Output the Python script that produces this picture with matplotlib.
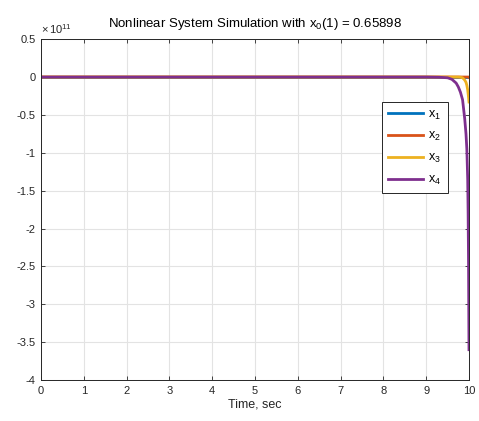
import matplotlib
matplotlib.use('Agg')
import matplotlib.pyplot as plt
from matplotlib.ticker import FuncFormatter
import numpy as np

plt.rcParams['font.family'] = ['Liberation Sans', 'DejaVu Sans']
plt.rcParams['mathtext.fontset'] = 'custom'
plt.rcParams['mathtext.rm'] = 'Liberation Sans'
plt.rcParams['mathtext.it'] = 'Liberation Sans:italic'

# simulation output (states in units of 1e11)
SCALE = 1e11
t = [0.0, 9.0, 9.3, 9.5, 9.6, 9.7, 9.75, 9.8, 9.85, 9.9, 9.93, 9.95, 9.97, 9.98, 9.99, 10.0]
x1 = [0, 0, 0, 0, 0, 0, 0, 0, 0, 0, 0, 0, 0, 0, 0, 0]
x2 = [0, 0, 0, 0, 0, 0, 0, 0, 0, 0, 0, 0, 0, 0, 0, -0.005]
x3 = [0, 0, 0, 0, 0, 0, 0, -0.003, -0.01, -0.04, -0.07, -0.11, -0.17, -0.22, -0.27, -0.33]
x4 = [0, 0, -0.003, -0.01, -0.03, -0.08, -0.13, -0.2, -0.3, -0.55, -0.75, -0.95, -1.35, -1.8, -2.5, -3.6]

states = [x1, x2, x3, x4]
labels = ['x$_1$', 'x$_2$', 'x$_3$', 'x$_4$']
colors = ['#0072bd', '#d95319', '#edb120', '#7e2f8e']

fig = plt.figure(figsize=(4.79, 4.21), dpi=100)
ax = fig.add_axes([0.0856, 0.0974, 0.8935, 0.8096])

for xs, lab, c in zip(states, labels, colors):
    ax.plot(t, np.array(xs) * SCALE, color=c, lw=2, label=lab)

ax.set_xlim(0, 10)
ax.set_ylim(-4 * SCALE, 0.5 * SCALE)
ax.set_xticks(np.arange(0, 11, 1))
ax.set_yticks(np.arange(-4, 0.51, 0.5) * SCALE)
ax.yaxis.set_major_formatter(FuncFormatter(lambda v, p: '%g' % (v / SCALE)))
ax.grid(True, color='#e3e3e3', lw=0.8)
ax.set_axisbelow(True)

dark = '#262626'
ax.tick_params(direction='in', top=True, right=True, length=3, width=0.6,
               labelsize=8, colors=dark, labelcolor=dark, pad=4)
for s in ax.spines.values():
    s.set_color(dark)
    s.set_linewidth(0.7)

ax.text(0.0, 1.01, r'$\times\,10^{11}$', transform=ax.transAxes,
        fontsize=8, color=dark, ha='left', va='bottom')
ax.set_title('Nonlinear System Simulation with x$_0$(1) = 0.65898',
             fontsize=9.5, color='black', pad=9)
ax.set_xlabel('Time, sec', fontsize=9, color=dark, labelpad=2)

leg = ax.legend(loc='upper left', bbox_to_anchor=(0.797, 0.815), fontsize=9,
                handlelength=2.8, handletextpad=0.4, labelspacing=0.7,
                borderpad=0.5, fancybox=False, framealpha=1, borderaxespad=0)
leg.get_frame().set_edgecolor(dark)
leg.get_frame().set_linewidth(0.7)

fig.savefig('out.png', dpi=100)
